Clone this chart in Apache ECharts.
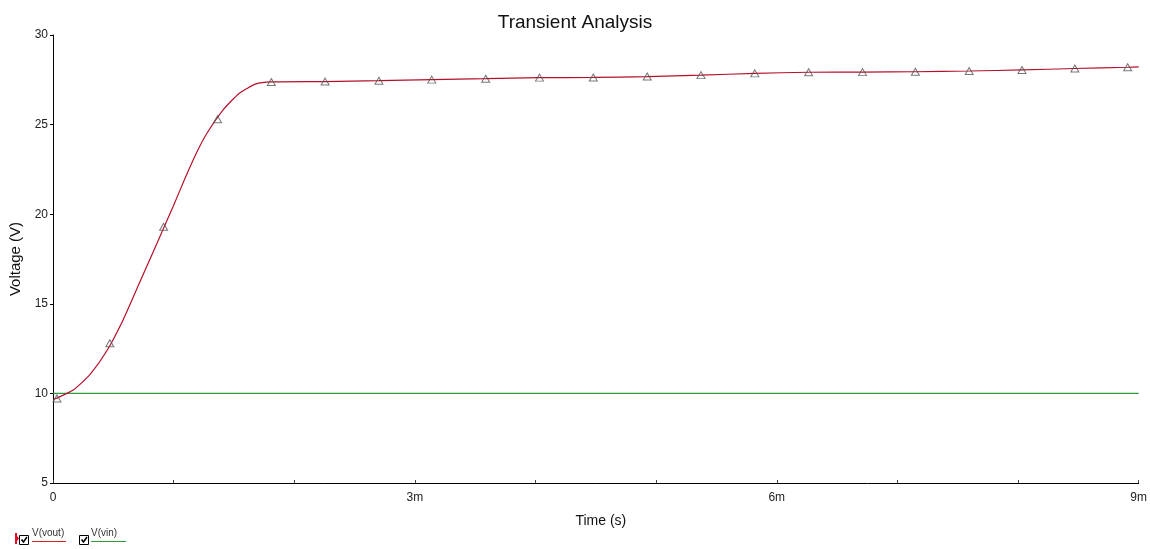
<!DOCTYPE html>
<html>
<head>
<meta charset="utf-8">
<script src="https://cdn.jsdelivr.net/npm/echarts@6/dist/echarts.min.js"></script>
<style>
html,body{margin:0;padding:0;background:#fff;}
#chart{width:1150px;height:549px;}
</style>
</head>
<body>
<div id="chart"></div>
<script>
// Time in ms
const voutTime = [0, 0.03, 0.168, 0.306, 0.444, 0.581, 0.719, 0.857, 0.994, 1.091, 1.188, 1.270, 1.407, 1.545, 1.683, 1.81, 2.256, 2.702, 3.14, 3.587, 4.033, 4.479, 4.926, 5.372, 5.818, 6.264, 6.711, 7.149, 7.595, 8.033, 8.471, 8.909, 9.0];
const voutValue = [9.66, 9.73, 10.19, 11.05, 12.35, 14.1, 16.2, 18.3, 20.4, 21.95, 23.4, 24.45, 25.8, 26.75, 27.27, 27.38, 27.40, 27.45, 27.51, 27.56, 27.62, 27.63, 27.68, 27.76, 27.86, 27.92, 27.93, 27.95, 27.99, 28.05, 28.13, 28.20, 28.22];
const markerTime = [0.033, 0.471, 0.917, 1.364, 1.81, 2.256, 2.702, 3.14, 3.587, 4.033, 4.479, 4.926, 5.372, 5.818, 6.264, 6.711, 7.149, 7.595, 8.033, 8.471, 8.909];
const markerValue = [9.72, 12.8, 19.3, 25.3, 27.38, 27.40, 27.45, 27.51, 27.56, 27.62, 27.63, 27.68, 27.76, 27.86, 27.92, 27.93, 27.95, 27.99, 28.05, 28.13, 28.20];
const vinTime = [0, 9.0];
const vinValue = [10, 10];
const yTicks = [5, 10, 15, 20, 25, 30];
const xLabelTicks = [0, 3, 6, 9];

const chart = echarts.init(document.getElementById('chart'), null, {renderer: 'canvas'});
const font = '"Liberation Sans", Arial, sans-serif';
const GREEN = '#2f9a3e';
const RED = '#b5102a';

const option = {
  backgroundColor: '#fff',
  animation: false,
  title: {
    text: 'Transient Analysis',
    left: 'center',
    top: 8,
    textStyle: {fontFamily: font, fontSize: 19, fontWeight: 'normal', color: '#111'}
  },
  grid: {left: 53, right: 8, top: 35, bottom: 66, containLabel: false},
  xAxis: {
    type: 'value', min: 0, max: 9, interval: 1,
    name: 'Time (s)', nameLocation: 'middle', nameGap: 31,
    nameTextStyle: {fontFamily: font, fontSize: 14, color: '#111', padding: [0, 0, 0, 10]},
    axisLine: {lineStyle: {color: '#000', width: 1}},
    axisTick: {show: true, inside: true, length: 3, lineStyle: {color: '#444'}},
    axisLabel: {
      fontFamily: font, fontSize: 12, color: '#222', margin: 9,
      formatter: v => xLabelTicks.includes(v) ? (v === 0 ? '0' : v + 'm') : ''
    },
    splitLine: {show: false}
  },
  yAxis: {
    type: 'value', min: 5, max: 30, interval: 5,
    name: 'Voltage (V)', nameLocation: 'middle', nameGap: 23,
    nameTextStyle: {fontFamily: font, fontSize: 15, color: '#111'},
    axisLine: {show: true, lineStyle: {color: '#000', width: 1}},
    axisTick: {show: true, length: 3, lineStyle: {color: '#000'}},
    axisLabel: {
      fontFamily: font, fontSize: 12, color: '#222', margin: 5,
      formatter: v => yTicks.includes(v) ? String(v) : ''
    },
    splitLine: {show: false}
  },
  series: [
    {
      name: 'V(vin)', type: 'line', color: GREEN,
      data: vinTime.map((t, i) => [t, vinValue[i]]),
      symbol: 'none', lineStyle: {color: GREEN, width: 1.3}, itemStyle: {color: GREEN}, z: 2
    },
    {
      name: 'V(vout)', type: 'line', color: RED,
      data: voutTime.map((t, i) => [t, voutValue[i]]),
      symbol: 'none', smooth: 0.2,
      lineStyle: {color: RED, width: 1.2}, itemStyle: {color: RED}, z: 3
    },
    {
      name: 'markers', type: 'scatter',
      data: markerTime.map((t, i) => [t, markerValue[i]]),
      symbol: 'triangle', symbolSize: [8, 7],
      itemStyle: {color: 'rgba(255,255,255,0)', borderColor: '#555', borderWidth: 1}, z: 4
    }
  ],
  graphic: [
    {type: 'polygon', shape: {points: [[15, 533], [19, 538.5], [15, 544]]}, style: {fill: '#e0102a'}},
    {type: 'rect', shape: {x: 15, y: 533, width: 2, height: 11}, style: {fill: '#e0102a'}},
    {type: 'rect', shape: {x: 19.5, y: 535.5, width: 9, height: 9}, style: {fill: '#fff', stroke: '#000', lineWidth: 1}},
    {type: 'polyline', shape: {points: [[21.5, 539.5], [23.5, 542], [27, 537]]}, style: {stroke: '#000', lineWidth: 1.6, fill: null}},
    {type: 'text', left: 32, top: 528, style: {text: 'V(vout)', font: '10px "Liberation Sans", Arial, sans-serif', fill: '#333'}},
    {type: 'rect', shape: {x: 32, y: 541, width: 34, height: 1}, style: {fill: '#d8202a'}},
    {type: 'rect', shape: {x: 79.5, y: 535.5, width: 9, height: 9}, style: {fill: '#fff', stroke: '#000', lineWidth: 1}},
    {type: 'polyline', shape: {points: [[81.5, 539.5], [83.5, 542], [87, 537]]}, style: {stroke: '#000', lineWidth: 1.6, fill: null}},
    {type: 'text', left: 91, top: 528, style: {text: 'V(vin)', font: '10px "Liberation Sans", Arial, sans-serif', fill: '#333'}},
    {type: 'rect', shape: {x: 91, y: 541, width: 35, height: 1}, style: {fill: GREEN}}
  ]
};
chart.setOption(option);
</script>
</body>
</html>
